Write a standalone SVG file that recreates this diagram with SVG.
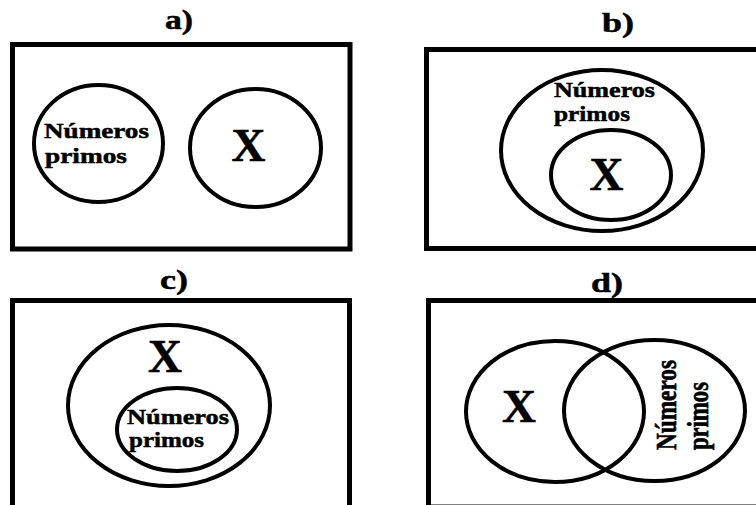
<svg xmlns="http://www.w3.org/2000/svg" width="756" height="505" viewBox="0 0 756 505">
<style>
.frame{fill:none;stroke:#000;stroke-width:5}
.set{fill:none;stroke:#000;stroke-width:4}
.t{font-family:"Liberation Serif","Times New Roman",serif;font-weight:bold;fill:#000;stroke:#000;stroke-width:0.5}
.lbl{font-size:28px;text-anchor:middle}
.np{font-size:22px}
.x{font-size:47px;text-anchor:middle}
</style>
<rect width="756" height="505" fill="#fff"/>
<g id="panel-a">
  <text class="t lbl" x="179" y="29" textLength="28" lengthAdjust="spacingAndGlyphs">a)</text>
  <rect class="frame" x="12.5" y="44.5" width="337.5" height="204.5"/>
  <g id="a-primos">
    <ellipse class="set" cx="98.5" cy="143.5" rx="64.5" ry="58.5"/>
    <text class="t np" x="44" y="138" textLength="105" lengthAdjust="spacingAndGlyphs">Números</text>
    <text class="t np" x="45" y="163" textLength="82" lengthAdjust="spacingAndGlyphs">primos</text>
  </g>
  <g id="a-x">
    <ellipse class="set" cx="255.5" cy="148" rx="65.5" ry="59"/>
    <text class="t x" x="248.5" y="161">X</text>
  </g>
</g>
<g id="panel-b">
  <text class="t lbl" x="618" y="32" textLength="32" lengthAdjust="spacingAndGlyphs">b)</text>
  <rect class="frame" x="426.5" y="49.5" width="340" height="199"/>
  <g id="b-primos">
    <ellipse class="set" cx="602" cy="150.5" rx="101" ry="80.5"/>
    <text class="t np" x="554" y="97" textLength="101" lengthAdjust="spacingAndGlyphs">Números</text>
    <text class="t np" x="554" y="121" textLength="76" lengthAdjust="spacingAndGlyphs">primos</text>
  </g>
  <g id="b-x">
    <ellipse class="set" cx="611" cy="175" rx="60" ry="45"/>
    <text class="t x" x="606.5" y="190">X</text>
  </g>
</g>
<g id="panel-c">
  <text class="t lbl" x="174" y="289" textLength="28" lengthAdjust="spacingAndGlyphs">c)</text>
  <rect class="frame" x="12.5" y="300.5" width="337" height="215"/>
  <g id="c-x">
    <ellipse class="set" cx="169" cy="405.5" rx="101" ry="80.5"/>
    <text class="t x" x="165" y="372">X</text>
  </g>
  <g id="c-primos">
    <ellipse class="set" cx="177" cy="429.5" rx="60" ry="41.5"/>
    <text class="t np" x="127" y="424" textLength="102" lengthAdjust="spacingAndGlyphs">Números</text>
    <text class="t np" x="129" y="447" textLength="75" lengthAdjust="spacingAndGlyphs">primos</text>
  </g>
</g>
<g id="panel-d">
  <text class="t lbl" x="607" y="292" textLength="32" lengthAdjust="spacingAndGlyphs">d)</text>
  <rect class="frame" x="428.5" y="300.5" width="340" height="206.5"/>
  <g id="d-x">
    <ellipse class="set" cx="555" cy="411.5" rx="89" ry="70.5"/>
    <text class="t x" x="519" y="422">X</text>
  </g>
  <g id="d-primos">
    <ellipse class="set" cx="654.5" cy="410.5" rx="90.5" ry="70.5"/>
    <g transform="translate(676,450) scale(1.3,1) rotate(-90)">
      <text class="t" font-size="22" x="0" y="0" textLength="90" lengthAdjust="spacingAndGlyphs">Números</text>
      <text class="t" font-size="22" x="0" y="24.5" textLength="68" lengthAdjust="spacingAndGlyphs">primos</text>
    </g>
  </g>
</g>
</svg>
